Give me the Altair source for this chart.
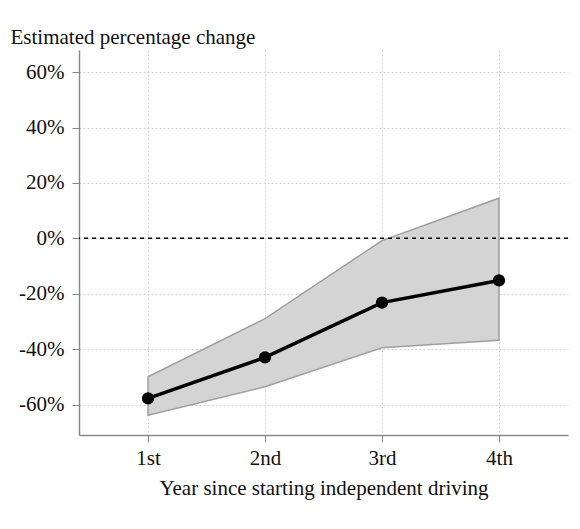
import altair as alt
import pandas as pd

years = ["1st", "2nd", "3rd", "4th"]
estimate = [-57.8, -43.0, -23.2, -15.2]
ci_low = [-63.9, -53.6, -39.5, -36.8]
ci_high = [-50.0, -29.0, -0.8, 14.5]
y_ticks = [-60, -40, -20, 0, 20, 40, 60]

df = pd.DataFrame({"year": years, "est": estimate, "lo": ci_low, "hi": ci_high})
zero_df = pd.DataFrame({"y": [0]})

FONT = "Liberation Serif"

x_enc = alt.X(
    "year:N",
    sort=years,
    scale=alt.Scale(type="point", padding=0.59),
    axis=alt.Axis(
        title="Year since starting independent driving",
        labelAngle=0,
        grid=True,
        gridColor="#d2d2d2",
        gridDash=[2, 2],
        gridWidth=1,
        domainColor="#8a8a8a",
        domainWidth=1.5,
        tickColor="#8a8a8a",
        tickSize=7,
        labelPadding=5,
        titlePadding=9,
    ),
)

y_scale = alt.Scale(domain=[-71, 68], nice=False, zero=False)
y_axis = alt.Axis(
    values=y_ticks,
    labelExpr="datum.value + '%'",
    title="Estimated percentage change",
    titleAngle=0,
    titleAlign="left",
    titleBaseline="alphabetic",
    titleX=-69,
    titleY=-7,
    grid=True,
    gridColor="#d2d2d2",
    gridDash=[2, 2],
    gridWidth=1,
    domainColor="#8a8a8a",
    domainWidth=1.5,
    tickColor="#8a8a8a",
    tickSize=7,
    labelPadding=8,
)

band = alt.Chart(df).mark_area(
    color="#d4d4d4", opacity=1, stroke="#a0a0a0", strokeWidth=1.5
).encode(
    x=x_enc,
    y=alt.Y("lo:Q", scale=y_scale, axis=y_axis),
    y2="hi:Q",
)

zero = alt.Chart(zero_df).mark_rule(
    color="black", strokeDash=[4, 4], strokeWidth=1.5
).encode(y=alt.Y("y:Q", scale=y_scale))

line = alt.Chart(df).mark_line(color="black", strokeWidth=3.5).encode(
    x=alt.X("year:N", sort=years),
    y=alt.Y("est:Q", scale=y_scale),
)

pts = alt.Chart(df).mark_point(
    color="black", filled=True, size=150, opacity=1
).encode(
    x=alt.X("year:N", sort=years),
    y=alt.Y("est:Q", scale=y_scale),
)

chart = (
    alt.layer(band, zero, line, pts)
    .properties(
        width=489,
        height=385,
        autosize=alt.AutoSizeParams(type="none"),
        padding={"left": 71, "top": 42, "right": 4, "bottom": 80},
    )
    .configure_view(stroke=None)
    .configure_axis(
        labelFont=FONT,
        titleFont=FONT,
        labelFontSize=21,
        titleFontSize=21,
        labelColor="#111111",
        titleColor="#111111",
        titleFontWeight="normal",
    )
)

chart.save("out.html", embed_options={"renderer": "svg", "actions": False})
